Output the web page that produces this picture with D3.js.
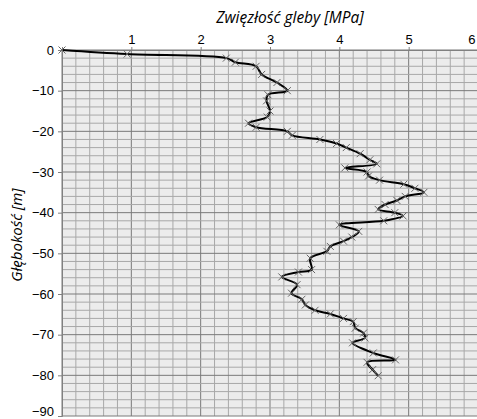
<!DOCTYPE html>
<html>
<head>
<meta charset="utf-8">
<script src="https://cdn.jsdelivr.net/npm/d3@7"></script>
<style>
  body { margin: 0; background: #fff; }
  svg { display: block; }
</style>
</head>
<body>
<div id="chart"></div>
<script>
// glebokosc [m] i zwiezlosc [MPa]
const depths = [0, -1, -2, -3, -4, -6, -8, -10, -11, -12.5, -15, -16.5, -18, -19, -20, -21, -22, -23, -24,
  -25.5, -27, -28, -29, -30, -31, -32, -33, -34, -35, -36, -37, -38, -39.2, -40, -40.8, -42, -43, -44.6,
  -46, -47, -48.3, -49.5, -51.2, -54, -54.6, -55.8, -57.7, -59.8, -61.3, -62.7, -64, -64.9, -66, -66.8,
  -68.4, -69.6, -70.8, -72, -74.5, -76.2, -76.8, -78.6, -80.1];
const strength = [0, 0.94, 2.37, 2.5, 2.8, 2.88, 3.1, 3.25, 2.97, 2.95, 3.0, 2.96, 2.69, 2.8, 3.25, 3.32, 3.72, 3.96, 4.1,
  4.3, 4.44, 4.54, 4.08, 4.4, 4.42, 4.58, 4.93, 5.09, 5.22, 4.95, 4.83, 4.66, 4.56, 4.8, 4.92, 4.64, 4.0, 4.28,
  4.18, 4.06, 3.87, 3.82, 3.58, 3.6, 3.41, 3.17, 3.39, 3.31, 3.46, 3.51, 3.65, 3.87, 4.06, 4.2,
  4.23, 4.35, 4.37, 4.19, 4.49, 4.81, 4.40, 4.48, 4.56];
const xTicks = [1, 2, 3, 4, 5, 6];
const yTicks = [0, -10, -20, -30, -40, -50, -60, -70, -80, -90];

const width = 477, height = 419;
const plot = { left: 62, top: 50, right: 478, bottom: 416 };

const svg = d3.select('#chart').append('svg')
    .attr('width', width)
    .attr('height', height);

const x = d3.scaleLinear().domain([0, 6]).range([plot.left, plot.right]);
const y = d3.scaleLinear().domain([0, -90]).range([plot.top, plot.bottom]);

// tlo
svg.append('rect')
    .attr('x', plot.left).attr('y', plot.top)
    .attr('width', plot.right - plot.left).attr('height', plot.bottom - plot.top)
    .attr('fill', '#ececec');

// siatka
const grid = svg.append('g');
d3.range(0, 6.001, 0.2).forEach(v => {
  const major = Math.abs(v - Math.round(v)) < 1e-6;
  grid.append('line')
      .attr('x1', x(v)).attr('x2', x(v))
      .attr('y1', plot.top).attr('y2', plot.bottom)
      .attr('stroke', major ? '#7a7a7a' : '#a8a8a8')
      .attr('stroke-width', 1);
});
d3.range(0, -90.001, -2).forEach(v => {
  const major = v % 10 === 0;
  grid.append('line')
      .attr('x1', plot.left).attr('x2', plot.right)
      .attr('y1', y(v)).attr('y2', y(v))
      .attr('stroke', major ? '#7a7a7a' : '#a8a8a8')
      .attr('stroke-width', 1);
});

// osie
const xAxis = svg.append('g')
    .attr('transform', `translate(0,${plot.top})`)
    .call(d3.axisTop(x).tickValues(xTicks).tickSize(3).tickFormat(d3.format('d')));
const yAxis = svg.append('g')
    .attr('transform', `translate(${plot.left},0)`)
    .call(d3.axisLeft(y).tickValues(yTicks).tickSize(4).tickFormat(d3.format('d')));
[xAxis, yAxis].forEach(a => {
  a.select('.domain').attr('stroke', '#808080');
  a.selectAll('.tick line').attr('stroke', '#808080');
  a.selectAll('.tick text')
      .attr('fill', '#000')
      .style('font-family', 'Liberation Sans, Arial, sans-serif')
      .style('font-size', '13px');
});
yAxis.selectAll('.tick text').attr('x', -8);
// etykiety przy krawedziach
xAxis.selectAll('.tick text').filter(d => d === 6).attr('text-anchor', 'end').attr('x', -3);
yAxis.selectAll('.tick text').filter(d => d === -90).attr('dy', '-0.05em');

// linia
const pts = depths.map((d, i) => [strength[i], d]);
const line = d3.line()
    .x(p => x(p[0]))
    .y(p => y(p[1]))
    .curve(d3.curveCatmullRom.alpha(0.5));

svg.append('path')
    .datum(pts)
    .attr('d', line)
    .attr('fill', 'none')
    .attr('stroke', '#000')
    .attr('stroke-width', 2);

// znaczniki
const s = 3.5;
svg.append('g').selectAll('path')
    .data(pts)
    .join('path')
    .attr('d', p => {
      const cx = x(p[0]), cy = y(p[1]);
      return `M${cx - s},${cy - s}L${cx + s},${cy + s}M${cx - s},${cy + s}L${cx + s},${cy - s}`;
    })
    .attr('stroke', '#666')
    .attr('stroke-width', 1);

// tytuly
svg.append('text')
    .attr('x', 290).attr('y', 23)
    .attr('text-anchor', 'middle')
    .style('font-family', 'Open Sans, sans-serif')
    .style('font-style', 'italic')
    .style('font-size', '15.5px')
    .text('Zwięzłość gleby  [MPa]');

svg.append('text')
    .attr('transform', 'translate(22,235) rotate(-90)')
    .attr('text-anchor', 'middle')
    .style('font-family', 'Open Sans, sans-serif')
    .style('font-style', 'italic')
    .style('font-size', '15px')
    .text('Głębokość [m]');
</script>
</body>
</html>
